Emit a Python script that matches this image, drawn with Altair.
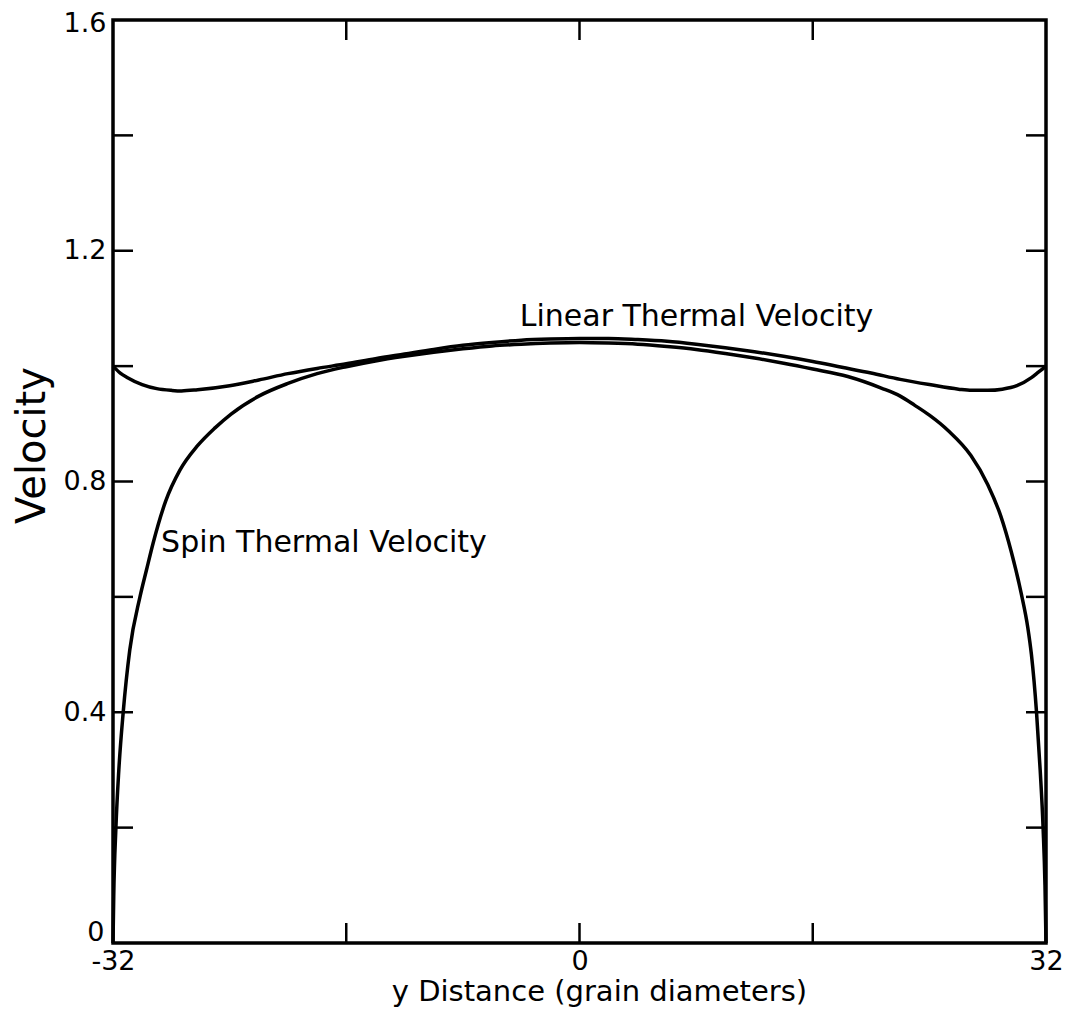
import altair as alt
import pandas as pd

# ---- data ----
lin_x = [-32, -31.5, -31, -30, -29, -28, -27.3, -26.2, -24, -22, -20, -18, -16, -14, -12, -10, -8, -6, -4, -2, 0,
         2, 4, 6, 8, 10, 12, 14, 16, 18, 20, 22, 24, 26, 26.9, 28, 29, 30, 31, 31.5, 32]
lin_v = [1.0, 0.988, 0.98, 0.968, 0.961, 0.958, 0.957, 0.959, 0.966, 0.976, 0.987, 0.996, 1.004, 1.013, 1.021, 1.029, 1.036, 1.041, 1.045, 1.047, 1.048,
         1.048, 1.046, 1.043, 1.038, 1.032, 1.025, 1.017, 1.008, 0.998, 0.988, 0.977, 0.968, 0.960, 0.958, 0.958, 0.960, 0.966, 0.980, 0.990, 1.0]

spin_x = [-32, -31.95, -31.8, -31.6, -31.3, -30.85, -30.15, -29.7, -29.25, -28.4, -27.4, -26.2, -25, -23.9, -22, -20, -18, -16, -14, -12, -10, -8, -6, -4, -2, 0,
          2, 4, 6, 8, 10, 12, 14, 16, 18.4, 20.7, 22, 23, 24, 25.3, 26.85, 28, 28.9, 29.6, 30.3, 30.75, 31.0, 31.35, 31.6, 31.8, 31.93, 32]
spin_v = [0.0, 0.08, 0.2, 0.3, 0.4, 0.508, 0.6, 0.647, 0.693, 0.765, 0.82, 0.862, 0.893, 0.917, 0.948, 0.97, 0.987, 0.999, 1.009, 1.017, 1.024, 1.03, 1.035, 1.038, 1.04, 1.041,
          1.04, 1.038, 1.034, 1.029, 1.022, 1.014, 1.005, 0.995, 0.982, 0.962, 0.948, 0.932, 0.915, 0.888, 0.845, 0.795, 0.74, 0.68, 0.606, 0.547, 0.5, 0.4, 0.3, 0.2, 0.1, 0.0]

x_label_values = [-32, 0, 32]
y_label_values = [0, 0.4, 0.8, 1.2, 1.6]
x_tick_values = [-16, 0, 16]
y_tick_values = [0.2, 0.4, 0.6, 0.8, 1.0, 1.2, 1.4]

ann_text = ["Linear Thermal Velocity", "Spin Thermal Velocity"]
ann_x = [-4.1, -28.7]
ann_y = [1.085, 0.693]

# ---- layout ----
W, H = 933, 923
TICK = 20
FONT = "DejaVu Sans"

curves = pd.concat([
    pd.DataFrame({"x": lin_x, "v": lin_v, "series": "Linear"}),
    pd.DataFrame({"x": spin_x, "v": spin_v, "series": "Spin"}),
])
yt = pd.DataFrame({"v": y_tick_values})
xt = pd.DataFrame({"x": x_tick_values})
ann = pd.DataFrame({"x": ann_x, "v": ann_y, "label": ann_text})

xscale = alt.Scale(domain=[-32, 32], nice=False, zero=False)
yscale = alt.Scale(domain=[0, 1.6], nice=False, zero=False)

xaxis = alt.Axis(
    values=x_label_values, ticks=False, domain=False, grid=False,
    labelExpr="'' + datum.value",
    labelFont=FONT, labelFontSize=27, labelColor="black", labelPadding=5, labelFlush=False,
    title="y Distance (grain diameters)", titleFont=FONT, titleFontSize=29, titleFontWeight="normal",
    titleColor="black", titleBaseline="middle", titleX=486, titleY=48)
yaxis = alt.Axis(
    values=y_label_values, ticks=False, domain=False, grid=False,
    labelExpr="datum.value == 0 ? '0' : format(datum.value, '.1f')",
    labelFont=FONT, labelFontSize=27, labelColor="black", labelFlush=False,
    labelPadding={"condition": {"test": "datum.value == 0", "value": 9}, "value": 7},
    labelOffset={"condition": [{"test": "datum.value == 0", "value": -11},
                               {"test": "datum.value == 1.6", "value": 3}], "value": 0},
    title="Velocity", titleFont=FONT, titleFontSize=40, titleFontWeight="normal",
    titleColor="black", titleBaseline="middle", titleAlign="center", titleX=-81, titleY=425)

X = lambda f: alt.X(f, scale=xscale, axis=xaxis)
Y = lambda f: alt.Y(f, scale=yscale, axis=yaxis)

lines = alt.Chart(curves).mark_line(color="black", strokeWidth=3.5, interpolate="monotone").encode(
    x=X("x:Q"), y=Y("v:Q"), detail="series:N",
)

rule_style = dict(color="black", strokeWidth=2.5)
left_ticks = alt.Chart(yt).mark_rule(**rule_style).encode(
    y=Y("v:Q"), x=alt.value(0), x2=alt.value(TICK))
right_ticks = alt.Chart(yt).mark_rule(**rule_style).encode(
    y=Y("v:Q"), x=alt.value(W - TICK), x2=alt.value(W))
bottom_ticks = alt.Chart(xt).mark_rule(**rule_style).encode(
    x=X("x:Q"), y=alt.value(H), y2=alt.value(H - TICK))
top_ticks = alt.Chart(xt).mark_rule(**rule_style).encode(
    x=X("x:Q"), y=alt.value(0), y2=alt.value(TICK))

labels = alt.Chart(ann).mark_text(align="left", baseline="middle", font=FONT, fontSize=30, color="black").encode(
    x=X("x:Q"), y=Y("v:Q"), text="label:N",
)

chart = alt.layer(lines, left_ticks, right_ticks, bottom_ticks, top_ticks, labels).properties(
    width=W, height=H,
    autosize=alt.AutoSizeParams(type="none"),
    padding={"left": 105, "top": 12, "right": 17, "bottom": 70},
    background="white",
).configure_view(stroke="black", strokeWidth=3.5)

chart.save("out.html", embed_options={"renderer": "svg", "actions": False})
